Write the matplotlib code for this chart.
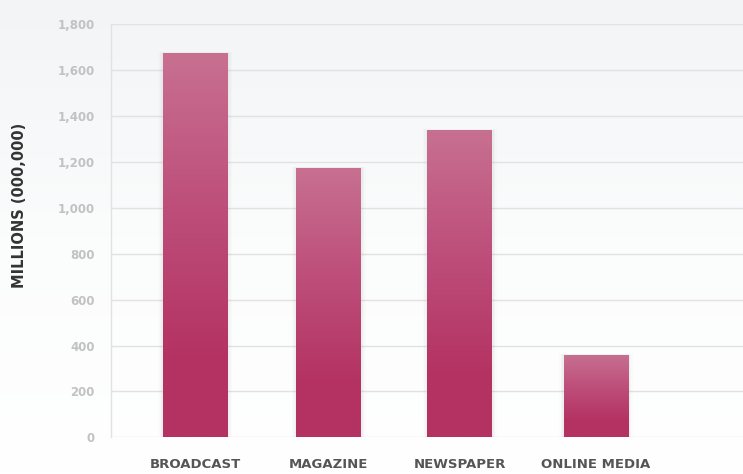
import matplotlib
matplotlib.use("Agg")
import matplotlib.pyplot as plt
import matplotlib.patches as mpatches
from matplotlib.colors import LinearSegmentedColormap
import numpy as np

categories = ["BROADCAST", "MAGAZINE", "NEWSPAPER", "ONLINE MEDIA"]
values     = [1675, 1175, 1340, 360]
positions  = [0.0, 1.0, 1.98, 3.0]
y_ticks    = [0, 200, 400, 600, 800, 1000, 1200, 1400, 1600, 1800]

GRID_COLOR = "#e2e2e2"
TICK_COLOR = "#c2c2c2"
LABEL_DARK = "#555555"
BAR_TOP    = "#c87091"
BAR_MID    = "#bd4f7a"
BAR_BOT    = "#b43262"

fig = plt.figure(figsize=(7.43, 4.74), dpi=100)

# soft grey-to-white backdrop
bg = fig.add_axes([0, 0, 1, 1], zorder=-10)
grad = np.linspace(0, 1, 256).reshape(-1, 1)
bg_cmap = LinearSegmentedColormap.from_list("bg", ["#f2f4f6", "#fbfcfc", "#ffffff"])
bg.imshow(grad, cmap=bg_cmap, aspect="auto", extent=(0, 1, 0, 1), origin="upper")
bg.axis("off")

ax = fig.add_axes([0.150, 0.0774, 0.85, 0.8713])
ax.set_facecolor("none")

bar_w = 0.485
bar_cmap = LinearSegmentedColormap.from_list(
    "bar", [(0.0, BAR_BOT), (0.2, BAR_BOT), (0.6, BAR_MID), (1.0, BAR_TOP)])
bar_grad = np.linspace(0, 1, 256).reshape(-1, 1)

bars = ax.bar(positions, values, width=bar_w, color=BAR_MID, zorder=3)
for b, v in zip(bars, values):
    x0 = b.get_x()
    # faint drop shadow
    for pad, a in [(0.035, 0.025), (0.022, 0.035), (0.011, 0.05)]:
        ax.add_patch(mpatches.Rectangle((x0 - pad, 0), bar_w + 2 * pad, v + pad * 120,
                                        color="#808080", alpha=a, lw=0, zorder=2))
    im = ax.imshow(bar_grad, cmap=bar_cmap, aspect="auto", origin="lower",
                   extent=(x0, x0 + bar_w, 0, v), zorder=4)
    im.set_clip_path(b)

ax.set_xlim(-0.627, 4.1)
ax.set_ylim(0, 1800)

ax.set_yticks(y_ticks)
ax.set_yticklabels([f"{t:,}" for t in y_ticks], color=TICK_COLOR, fontsize=8.5,
                   fontweight="bold")
ax.tick_params(axis="y", length=0, pad=12)
ax.set_xticks(positions)
ax.set_xticklabels(categories, color=LABEL_DARK, fontsize=9.5, fontweight="bold")
ax.tick_params(axis="x", length=0, pad=15)

ax.grid(axis="y", color=GRID_COLOR, linewidth=1.0, zorder=0)
for s in ["top", "right", "bottom"]:
    ax.spines[s].set_visible(False)
ax.spines["left"].set_color(GRID_COLOR)
ax.spines["left"].set_linewidth(1.0)

fig.text(0.026, 0.567, "MILLIONS (000,000)", rotation=90, ha="center", va="center",
         fontsize=10.5, fontweight="bold", color="#333333")

fig.savefig("out.png", dpi=100)
